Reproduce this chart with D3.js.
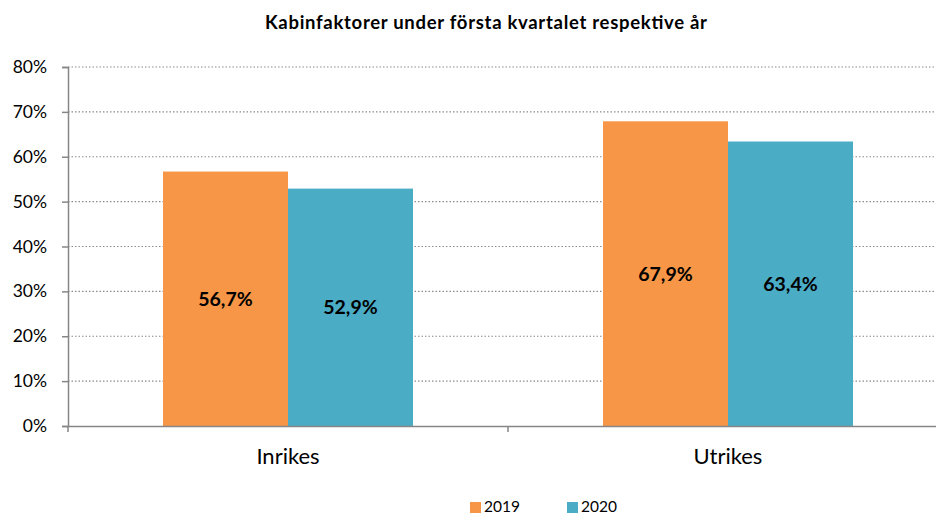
<!DOCTYPE html>
<html><head><meta charset="utf-8">
<script src="https://cdn.jsdelivr.net/npm/d3@7"></script>
<style>body{margin:0;background:#fff}svg{display:block;font-family:Lato,"Open Sans",sans-serif}</style>
</head><body>
<svg id="c" width="936" height="515"></svg>
<script>
const categories = ["Inrikes", "Utrikes"];
const seriesNames = ["2019", "2020"];
const values2019 = [56.7, 67.9];
const values2020 = [52.9, 63.4];
const yTicks = [0, 10, 20, 30, 40, 50, 60, 70, 80];
const colors = ["#F79646", "#4BACC6"];
const title = "Kabinfaktorer under första kvartalet respektive år";

(function () {
const svg = d3.select("#c");
const mLeft = 68, mRight = 948, mTop = 67, mBottom = 426;
const x = d3.scaleBand().domain(categories).range([mLeft, mRight]);
const x1 = d3.scaleBand().domain(seriesNames).range([0, 250]);
const y = d3.scaleLinear().domain([0, 80]).range([mBottom, mTop]);
const series = [values2019, values2020];

svg.append("text").attr("x", 486).attr("y", 29).attr("text-anchor", "middle")
  .attr("font-size", 18.5).attr("font-weight", "bold").attr("fill", "#000")
  .attr("textLength", 442).attr("lengthAdjust", "spacing").text(title);

// gridlines
svg.append("g").selectAll("line").data(yTicks.filter(d => d > 0)).join("line")
  .attr("x1", mLeft).attr("x2", 934).attr("y1", d => y(d)).attr("y2", d => y(d))
  .attr("stroke", "#8c8c8c").attr("stroke-width", 1.2).attr("stroke-dasharray", "1.5,2");

// bars
categories.forEach((c, ci) => {
  const off = x(c) + (x.bandwidth() - 250) / 2;
  seriesNames.forEach((s, si) => {
    const v = series[si][ci];
    svg.append("rect").attr("x", off + x1(s)).attr("width", x1.bandwidth())
      .attr("y", y(v)).attr("height", y(0) - y(v)).attr("fill", colors[si]);
    svg.append("text").attr("x", off + x1(s) + x1.bandwidth() / 2).attr("y", y(v / 2) + 7)
      .attr("text-anchor", "middle").attr("font-size", 19.5).attr("font-weight", "bold")
      .attr("fill", "#000").text(v.toFixed(1).replace(".", ",") + "%");
  });
});

// y axis
const ya = svg.append("g").attr("transform", `translate(${mLeft},0)`)
  .call(d3.axisLeft(y).tickValues(yTicks).tickFormat(d => d + "%").tickSize(6).tickPadding(15));
ya.select(".domain").attr("stroke", "#868686").attr("stroke-width", 1.5);
ya.selectAll(".tick line").attr("stroke", "#868686").attr("stroke-width", 1.5);
ya.selectAll("text").attr("font-size", 17.5).attr("fill", "#000").attr("font-family", "Lato,'Open Sans',sans-serif");

// x axis
const xa = svg.append("g").attr("transform", `translate(0,${mBottom})`)
  .call(d3.axisBottom(x).tickSize(0).tickPadding(22));
xa.select(".domain").attr("stroke", "#868686").attr("stroke-width", 1.5);
xa.selectAll("text").attr("font-size", 22).attr("fill", "#000").attr("font-family", "Lato,'Open Sans',sans-serif");
svg.append("g").selectAll("line").data([mLeft, x("Utrikes")]).join("line")
  .attr("x1", d => d).attr("x2", d => d).attr("y1", mBottom).attr("y2", mBottom + 6)
  .attr("stroke", "#868686").attr("stroke-width", 1.5);

// legend
const lg = svg.append("g");
const lx = [470, 567];
seriesNames.forEach((s, i) => {
  lg.append("rect").attr("x", lx[i]).attr("y", 502).attr("width", 11).attr("height", 11).attr("fill", colors[i]);
  lg.append("text").attr("x", lx[i] + 14).attr("y", 512).attr("font-size", 15.5).attr("fill", "#000").text(s);
});
})();
</script>
</body></html>
